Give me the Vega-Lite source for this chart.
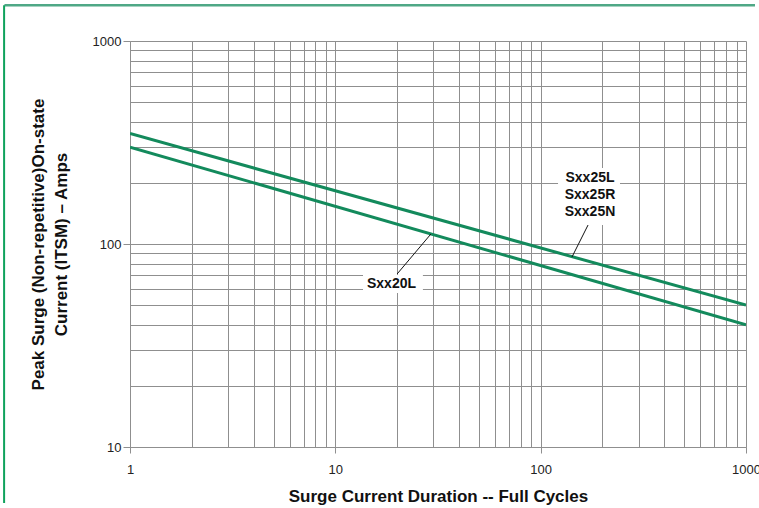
{
  "$schema": "https://vega.github.io/schema/vega-lite/v6.json",
  "width": 616,
  "height": 406,
  "autosize": {"type": "none"},
  "padding": {"left": 130, "top": 41, "right": 13, "bottom": 61},
  "background": "white",
  "config": {
    "view": {"stroke": null},
    "font": "Liberation Sans",
    "axis": {
      "labelFont": "Liberation Sans",
      "labelFontSize": 13,
      "labelColor": "#222222",
      "titleFont": "Liberation Sans",
      "titleFontSize": 17,
      "titleFontWeight": "bold",
      "titleColor": "#111111",
      "gridColor": "#8f8f8f",
      "gridWidth": 1,
      "gridOpacity": 1,
      "domainColor": "#8f8f8f",
      "tickColor": "#8f8f8f",
      "labelOverlap": false,
      "labelBound": false,
      "labelFlush": false
    }
  },
  "datasets": {
    "curves": [
      {"x": 1, "y": 350, "series": "Sxx25L"},
      {"x": 1000, "y": 50, "series": "Sxx25L"},
      {"x": 1, "y": 300, "series": "Sxx20L"},
      {"x": 1000, "y": 40, "series": "Sxx20L"}
    ],
    "leaders": [
      {"x": 20.0, "y": 71.2, "x2": 29.2, "y2": 112.0},
      {"x": 170.1, "y": 124.0, "x2": 142.1, "y2": 86.3}
    ],
    "boxes": [
      {"x": 13.64, "y": 70.4, "x2": 26.7, "y2": 57.4},
      {"x": 121.5, "y": 236.8, "x2": 243.4, "y2": 124.0}
    ],
    "labels": [
      {"x": 18.77, "y": 63.5, "label": "Sxx20L"},
      {"x": 173.9, "y": 211.4, "label": "Sxx25L"},
      {"x": 173.9, "y": 174.3, "label": "Sxx25R"},
      {"x": 173.9, "y": 143.8, "label": "Sxx25N"}
    ],
    "frameTop": [
      {"x": 0.2447, "y": 1500, "x2": 1106, "y2": 1500}
    ],
    "frameLeft": [
      {"x": 0.2437, "y": 1500, "x2": 0.2437, "y2": 5.3}
    ]
  },
  "encoding": {
    "x": {
      "field": "x",
      "type": "quantitative",
      "scale": {"type": "log", "domain": [1, 1000], "nice": false, "zero": false},
      "axis": {
        "title": "Surge Current Duration -- Full Cycles",
        "titlePadding": 12,
        "values": [1,2,3,4,5,6,7,8,9,10,20,30,40,50,60,70,80,90,100,200,300,400,500,600,700,800,900,1000],
        "grid": true,
        "tickSize": 6,
        "labelPadding": 10,
        "tickOpacity": {"condition": {"test": "indexof([1,10,100,1000], datum.value) >= 0", "value": 1}, "value": 0},
        "labelExpr": "datum.value == 1000 ? '1000\u2002' : (indexof([1,10,100], datum.value) >= 0 ? format(datum.value, 'd') : '')"
      }
    },
    "y": {
      "field": "y",
      "type": "quantitative",
      "scale": {"type": "log", "domain": [10, 1000], "nice": false, "zero": false},
      "axis": {
        "title": ["Peak Surge (Non-repetitive)On-state", "Current (ITSM) – Amps"],
        "titlePadding": 22,
        "titleLineHeight": 23,
        "values": [10,20,30,40,50,60,70,80,90,100,200,300,400,500,600,700,800,900,1000],
        "grid": true,
        "tickSize": 7,
        "labelPadding": 2,
        "tickOpacity": {"condition": {"test": "indexof([10,100,1000], datum.value) >= 0", "value": 1}, "value": 0},
        "labelExpr": "indexof([10,100,1000], datum.value) >= 0 ? format(datum.value, 'd') : ''"
      }
    }
  },
  "layer": [
    {
      "data": {"name": "curves"},
      "mark": {"type": "line", "color": "#138a5c", "strokeWidth": 3, "clip": true},
      "encoding": {"detail": {"field": "series"}}
    },
    {
      "data": {"name": "leaders"},
      "mark": {"type": "rule", "color": "#111111", "strokeWidth": 1},
      "encoding": {"x2": {"field": "x2"}, "y2": {"field": "y2"}}
    },
    {
      "data": {"name": "boxes"},
      "mark": {"type": "rect", "fill": "white", "stroke": null},
      "encoding": {"x2": {"field": "x2"}, "y2": {"field": "y2"}}
    },
    {
      "data": {"name": "labels"},
      "mark": {"type": "text", "font": "Liberation Sans", "fontSize": 14, "fontWeight": "bold", "color": "#111111", "align": "center", "baseline": "middle"},
      "encoding": {"text": {"field": "label"}}
    },
    {
      "data": {"name": "frameTop"},
      "mark": {"type": "rule", "color": "#4fa886", "strokeWidth": 2.5},
      "encoding": {"x2": {"field": "x2"}, "y2": {"field": "y2"}}
    },
    {
      "data": {"name": "frameLeft"},
      "mark": {"type": "rule", "color": "#0fa25c", "strokeWidth": 2},
      "encoding": {"x2": {"field": "x2"}, "y2": {"field": "y2"}}
    }
  ]
}
